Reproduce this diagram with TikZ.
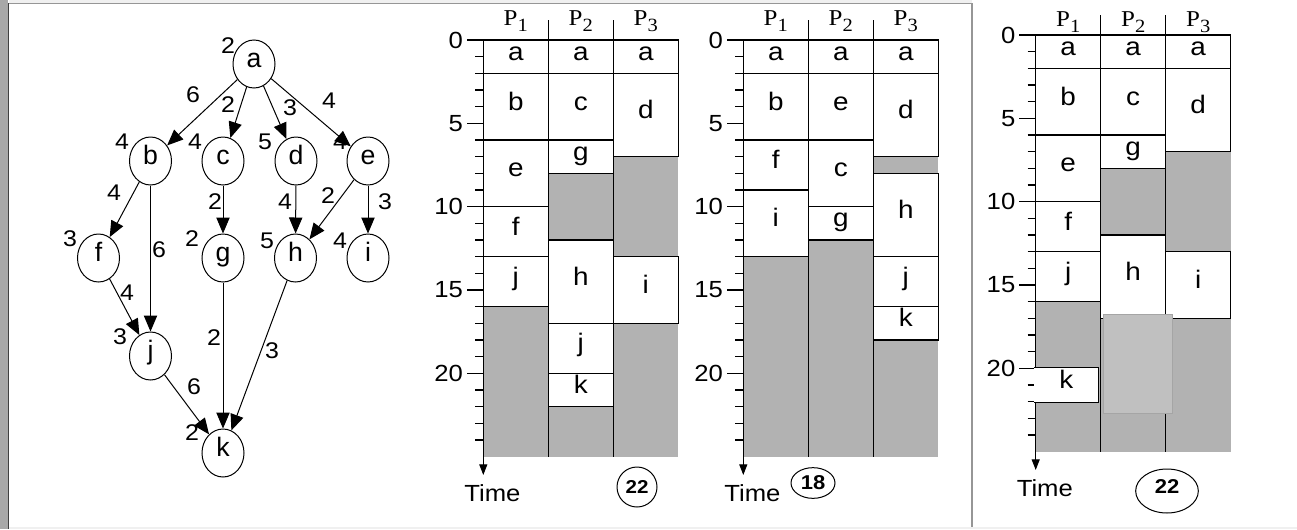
\documentclass[tikz,border=0pt]{standalone}
\usepackage{fontspec}
\setmainfont[FakeStretch=1.1]{Liberation Sans}
\newfontfamily\plainsans{Liberation Sans}
\newfontfamily\serifP[FakeStretch=1.1]{Liberation Serif}
\usetikzlibrary{arrows.meta,shapes.geometric}
\definecolor{gfill}{RGB}{178,178,178}
\definecolor{patch}{RGB}{192,192,192}
\definecolor{patchedge}{RGB}{165,165,165}
\definecolor{leftstrip}{RGB}{168,168,168}
\definecolor{frameline}{RGB}{150,150,150}
\definecolor{topstrip}{RGB}{240,240,240}

\newcommand\cell[5]{%
  \draw[cellbox] (#2,#3) rectangle ({#2+1},#4);
  \node[cl] (#1) at ({#2+0.5},{(#3+#4)/2}) {#5};}
\newcommand\gry[4]{\fill[gfill] (#1,#2) rectangle (#3,#4);}
\newcommand\chartaxes[2]{%
  \foreach \t in {1,...,24}{\draw[chartline] (-0.123,\t) -- (0,\t);}
  \foreach \t in {0,5,10,15,20}{\draw[chartline] (-0.25,\t) -- (0,\t);
    \node[axnum] (#1n\t) at (-0.31,\t) {\t};}
  \draw[chartline] (1,-1.2) -- (1,25) (2,-1.2) -- (2,25);
  \coordinate (#1top) at (0,0);
  \coordinate (#1end) at (0,26.1);
  \draw[chartline,-{Triangle[length=8pt,width=6pt]}] (#1top) -- (#1end);
  \foreach \c/\n in {0/1,1/2,2/3}{%
    \node[plabel] (#1P\n) at (\c+0.5,#2) {P\raisebox{-4.5pt}{\fontsize{14}{14}\selectfont\n}};}
  \node[timel] (#1time) at (0.14,27.2) {Time};
}

\begin{document}
\begin{tikzpicture}[x=0.75pt,y=-0.75pt,
  chartline/.style={line width=0.9pt,black},
  cellbox/.style={chartline,fill=white},
  cl/.style={font=\fontsize{19}{19}\selectfont,inner sep=0pt,text height=1ex,text depth=0pt},
  axnum/.style={font=\fontsize{17.5}{17.5}\selectfont,anchor=east,inner sep=0pt},
  plabel/.style={font=\serifP\fontsize{17}{17}\selectfont,anchor=base,inner sep=0pt},
  timel/.style={font=\fontsize{17.5}{17.5}\selectfont,inner sep=0pt},
  gnode/.style={draw,ellipse,line width=0.75pt,minimum width=31.5pt,minimum height=36pt,inner sep=0pt,
    font=\plainsans\fontsize{20}{20}\selectfont,text height=1ex,text depth=0pt},
  wt/.style={font=\fontsize{17}{17}\selectfont,inner sep=0pt},
  garrow/.style={line width=0.75pt,-{Triangle[length=12pt,width=10pt]}},
  units/.style={x=48.75pt,y=-12.5pt}]
\useasboundingbox (0,0) rectangle (1297,529);
% frame
\fill[white] (0,0) rectangle (1297,529);
\fill[leftstrip] (0,0) rectangle (8,529);
\draw[black!75,line width=1pt] (8.5,3) -- (8.5,529);
\fill[topstrip] (9,0) rectangle (972,3);
\draw[frameline,line width=0.8pt] (9,3.5) -- (972,3.5) -- (972,527);
\fill[topstrip] (9,527) rectangle (1297,529);

% ---------------- graph ----------------
\node[gnode] (a) at (254,64) {a};
\node[gnode] (b) at (150.5,161) {b};
\node[gnode] (c) at (223,161) {c};
\node[gnode] (d) at (296,161) {d};
\node[gnode] (e) at (368,161) {e};
\node[gnode] (f) at (98.5,258) {f};
\node[gnode] (g) at (223,258) {g};
\node[gnode] (h) at (295.5,258) {h};
\node[gnode] (i) at (368,258) {i};
\node[gnode] (j) at (150.5,356) {j};
\node[gnode] (k) at (223,453) {k};
\draw[garrow] (a) -- (b);
\draw[garrow] (a) -- (c);
\draw[garrow] (a) -- (d);
\draw[garrow] (a) -- (e);
\draw[garrow] (b) -- (f);
\draw[garrow] (b) -- (j);
\draw[garrow] (c) -- (g);
\draw[garrow] (d) -- (h);
\draw[garrow] (e) -- (h);
\draw[garrow] (e) -- (i);
\draw[garrow] (f) -- (j);
\draw[garrow] (g) -- (k);
\draw[garrow] (h) -- (k);
\draw[garrow] (j) -- (k);
% node weights
\node[wt] (wa) at (228,46) {2};
\node[wt] (wb) at (122,142) {4};
\node[wt] (wc) at (195,142) {4};
\node[wt] (wd) at (265,142) {5};
\node[wt] (we) at (340,142) {4};
\node[wt] (wf) at (70,239) {3};
\node[wt] (wg) at (192,239) {2};
\node[wt] (wh) at (267,241) {5};
\node[wt] (wi) at (340,241) {4};
\node[wt] (wj) at (120,337) {3};
\node[wt] (wk) at (192,433) {2};
% edge weights
\node[wt] (eab) at (193,95) {6};
\node[wt] (eac) at (228,105) {2};
\node[wt] (ead) at (290,108) {3};
\node[wt] (eae) at (329,101) {4};
\node[wt] (ebf) at (114,193) {4};
\node[wt] (ecg) at (215,202) {2};
\node[wt] (edh) at (285,202) {4};
\node[wt] (eeh) at (328,196) {2};
\node[wt] (eei) at (385,202) {3};
\node[wt] (ebj) at (159,250) {6};
\node[wt] (efj) at (127,293) {4};
\node[wt] (egk) at (214,338) {2};
\node[wt] (ehk) at (272,351) {3};
\node[wt] (ejk) at (194,387) {6};

% ---------------- chart 1 ----------------
\begin{scope}[shift={(483.3,40)},units]
\gry{0}{16}{1}{25}\gry{1}{8}{2}{12}\gry{1}{22}{2}{25}\gry{2}{7}{3}{13}\gry{2}{17}{3}{25}
\cell{Aa1}{0}{0}{2}{a}\cell{Ab}{0}{2}{6}{b}\cell{Ae}{0}{6}{10}{e}\cell{Af}{0}{10}{13}{f}\cell{Aj1}{0}{13}{16}{j}
\cell{Aa2}{1}{0}{2}{a}\cell{Ac}{1}{2}{6}{c}\cell{Ag}{1}{6}{8}{g}\cell{Ah}{1}{12}{17}{h}\cell{Aj2}{1}{17}{20}{j}\cell{Ak}{1}{20}{22}{k}
\cell{Aa3}{2}{0}{2}{a}\cell{Ad}{2}{2}{7}{d}\cell{Ai}{2}{13}{17}{i}
\chartaxes{A}{-0.9}
\end{scope}
\node[draw,circle,line width=0.75pt,minimum size=30pt,inner sep=0pt,font=\bfseries\fontsize{14}{14}\selectfont] (res1) at (637,487) {22};

% ---------------- chart 2 ----------------
\begin{scope}[shift={(743.3,40)},units]
\gry{0}{13}{1}{25}\gry{1}{12}{2}{25}\gry{2}{7}{3}{8}\gry{2}{18}{3}{25}
\cell{Ba1}{0}{0}{2}{a}\cell{Bb}{0}{2}{6}{b}\cell{Bf}{0}{6}{9}{f}\cell{Bi}{0}{9}{13}{i}
\cell{Ba2}{1}{0}{2}{a}\cell{Be}{1}{2}{6}{e}\cell{Bc}{1}{6}{10}{c}\cell{Bg}{1}{10}{12}{g}
\cell{Ba3}{2}{0}{2}{a}\cell{Bd}{2}{2}{7}{d}\cell{Bh}{2}{8}{13}{h}\cell{Bj}{2}{13}{16}{j}\cell{Bk}{2}{16}{18}{k}
\chartaxes{B}{-0.9}
\end{scope}
\node[draw,ellipse,line width=0.75pt,minimum width=33pt,minimum height=23pt,inner sep=0pt,font=\bfseries\fontsize{15}{15}\selectfont] (res2) at (813,483) {18};

% ---------------- chart 3 ----------------
\begin{scope}[shift={(1035.7,35)},units]
\gry{0}{16}{1}{25}\gry{1}{8}{2}{12}\gry{1}{17}{2}{25}\gry{2}{7}{3}{13}\gry{2}{17}{3}{25}
\cell{Ca1}{0}{0}{2}{a}\cell{Cb}{0}{2}{6}{b}\cell{Ce}{0}{6}{10}{e}\cell{Cf}{0}{10}{13}{f}\cell{Cj}{0}{13}{16}{j}
\cell{Ca2}{1}{0}{2}{a}\cell{Cc}{1}{2}{6}{c}\cell{Cg}{1}{6}{8}{g}\cell{Ch}{1}{12}{17}{h}
\cell{Ca3}{2}{0}{2}{a}\cell{Cd}{2}{2}{7}{d}\cell{Ci}{2}{13}{17}{i}
\chartaxes{C}{-0.54}
\fill[white] (-0.03,19.95) rectangle (0.97,22.05);
\draw[chartline] (-0.03,19.95) -- (0.97,19.95) -- (0.97,22.05) -- (-0.03,22.05);
\node[cl] (Ck) at (0.47,21) {k};
\filldraw[fill=patch,draw=patchedge,line width=0.6pt] (1.035,16.74) rectangle (2.097,22.68);
\end{scope}
\node[draw,ellipse,line width=0.75pt,minimum width=47pt,minimum height=33pt,inner sep=0pt] (res3) at (1167,491) {};
\node[font=\bfseries\fontsize{15}{15}\selectfont,inner sep=0pt] (res3t) at (1167,487) {22};
\end{tikzpicture}
\end{document}
